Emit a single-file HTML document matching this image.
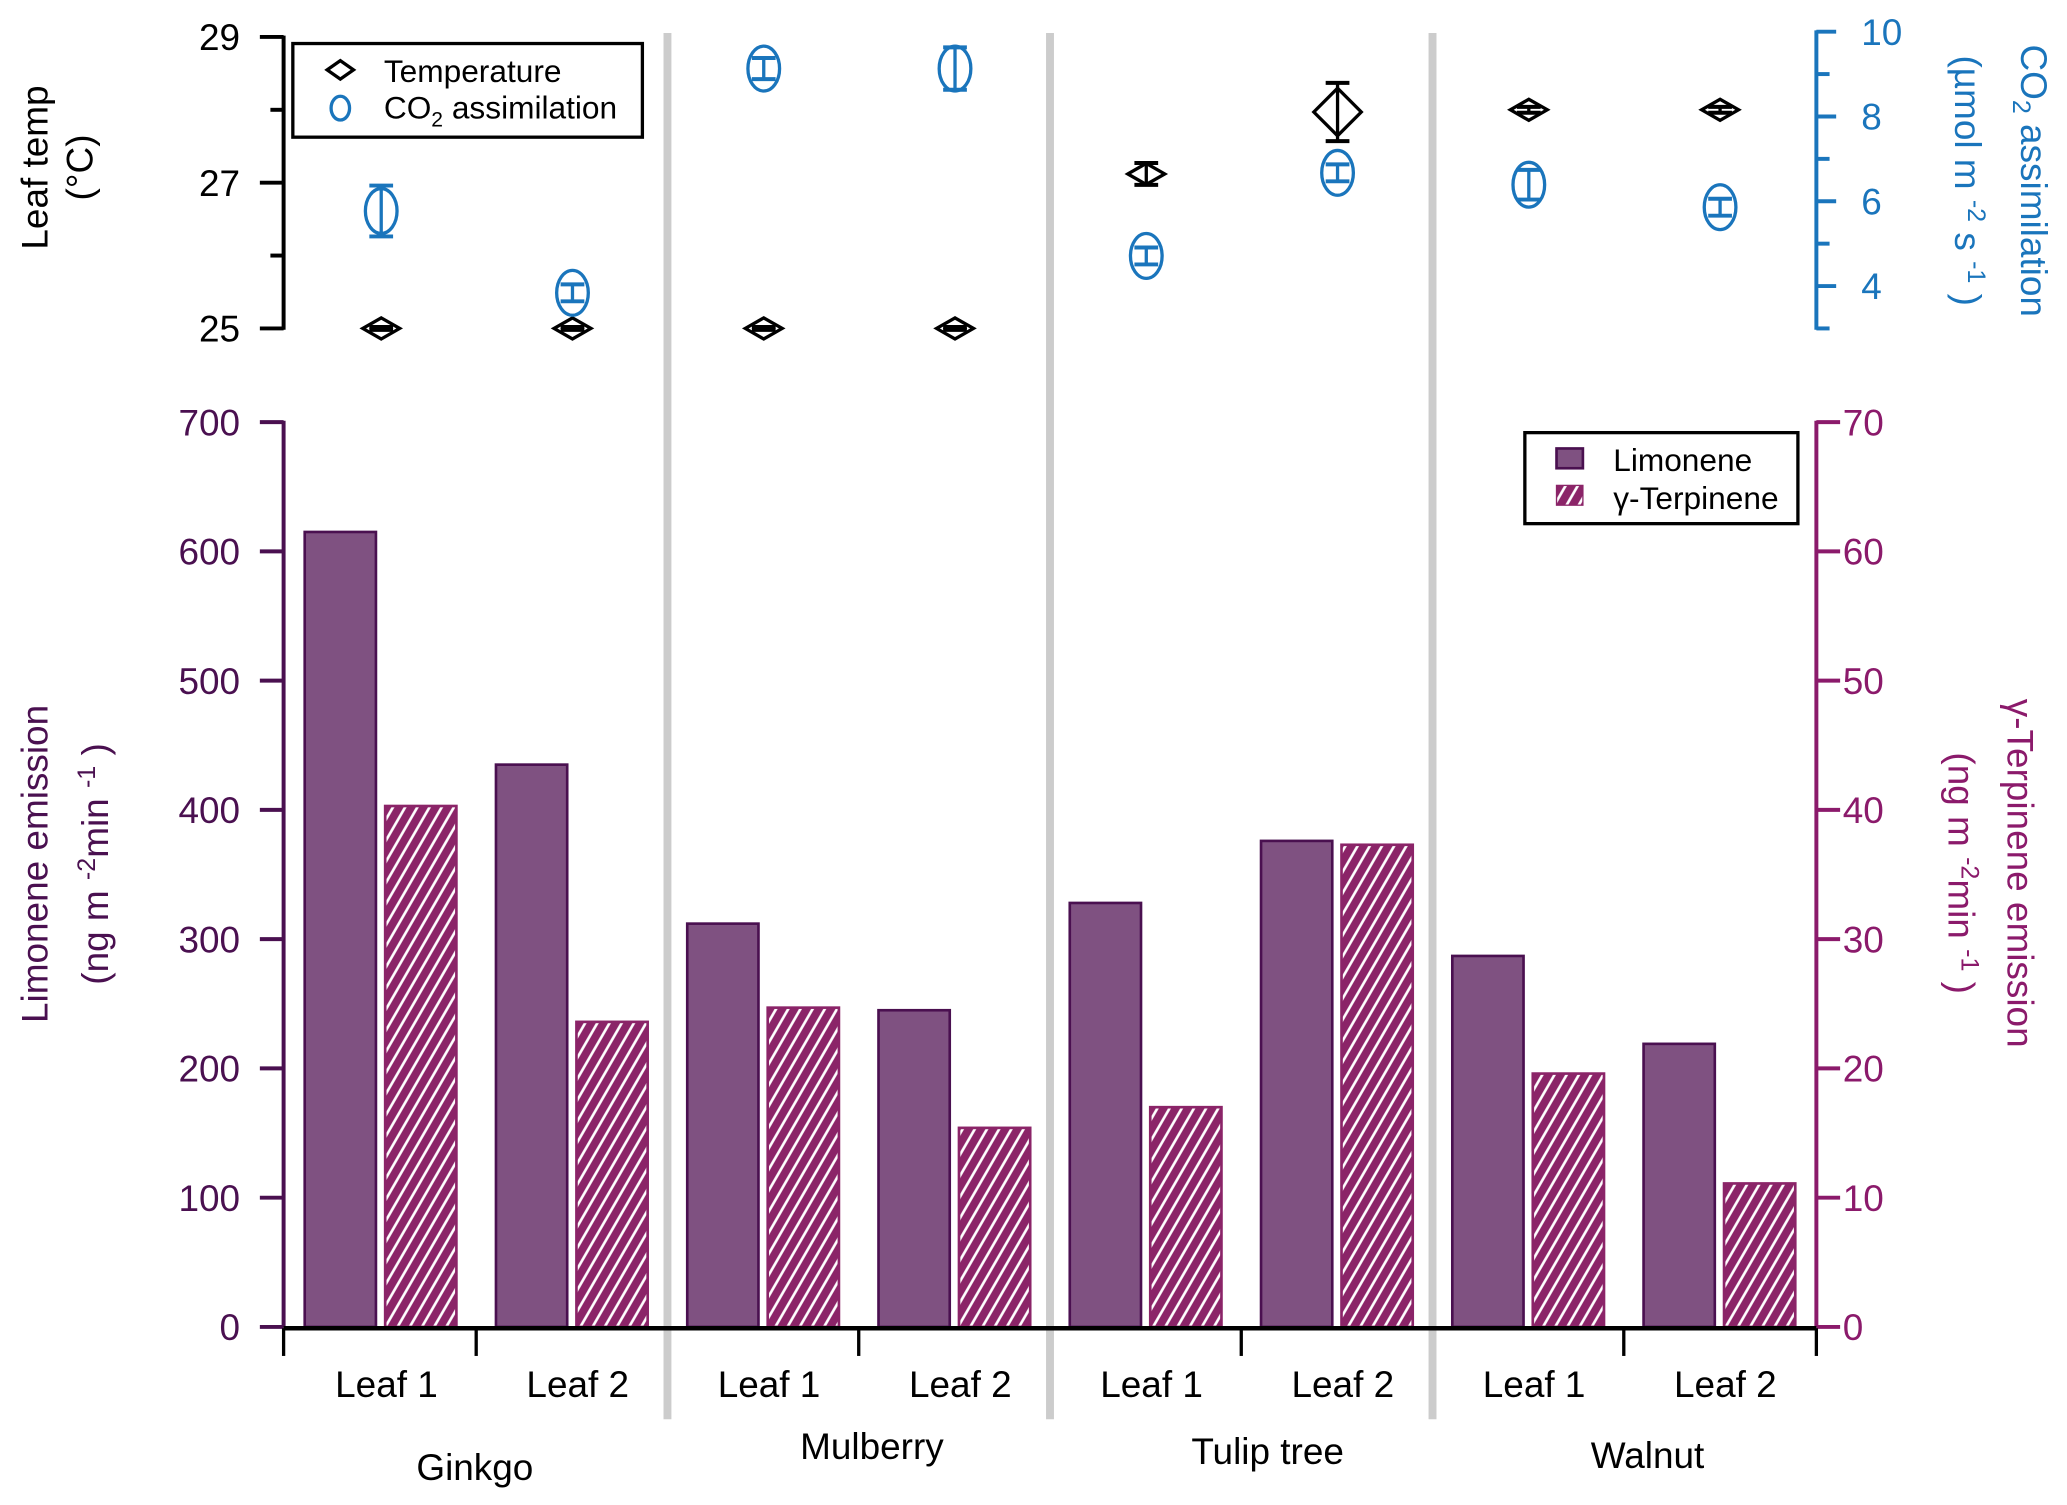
<!DOCTYPE html>
<html><head><meta charset="utf-8">
<style>
html,body{margin:0;padding:0;background:#fff;}
svg{display:block;font-family:"Liberation Sans",Arial,sans-serif;}
</style></head>
<body>
<svg id="chart" width="2067" height="1505" viewBox="0 0 1567 1141" preserveAspectRatio="none" xmlns="http://www.w3.org/2000/svg">
<defs>
<pattern id="hatch" patternUnits="userSpaceOnUse" width="8" height="8" patternTransform="rotate(30)">
<rect width="8" height="8" fill="#8b2468"/>
<line x1="4" y1="0" x2="4" y2="8" stroke="#fff" stroke-width="2"/>
</pattern>
</defs>
<g id="layer"></g>
</svg>
<script>
const categories = ["Ginkgo","Mulberry","Tulip tree","Walnut"];
const leaves = ["Leaf 1","Leaf 2"];
const limonene = [615, 435, 312, 245, 328, 376, 287, 219];
const terpinene = [40.3, 23.6, 24.7, 15.4, 17.0, 37.3, 19.6, 11.1];
const tempVals = [25, 25, 25, 25, 27.12, 27.97, 28, 28];
const tempErr = [0.02, 0.02, 0.02, 0.02, 0.15, 0.4, 0.04, 0.04];
const co2Vals = [5.77, 3.84, 9.13, 9.13, 4.71, 6.67, 6.39, 5.86];
const co2Err = [0.6, 0.2, 0.25, 0.5, 0.2, 0.2, 0.35, 0.2];
const limTicks = [0,100,200,300,400,500,600,700];
const terpTicks = [0,10,20,30,40,50,60,70];
const tempTicks = [25,27,29];
const co2Ticks = [4,6,8,10];

const NS="http://www.w3.org/2000/svg";
const L=document.getElementById('layer');
function mk(tag,attrs,parent){const e=document.createElementNS(NS,tag);for(const k in attrs)e.setAttribute(k,attrs[k]);(parent||L).appendChild(e);return e;}
function tx(str,x,y,attrs){const e=mk('text',Object.assign({x:x,y:y},attrs));e.textContent=str;return e;}

const X0=215, X1=1377;
const slot = i => 289 + i*145;
const yLim = v => 1006 - v*0.98;
const yTerp = v => 1006 - v*9.8;
const yTemp = v => 249 - (v-25)*55.25;
const yCO2 = v => 249 - (v-3)*32.14;
const PUR="#4a1050", MAG="#8b1a6b", BLUE="#1a75bc";
const FS=28;

[506,796,1086].forEach(x=>{const s=mk('line',{x1:x,y1:25,x2:x,y2:1076,stroke:'#cccccc','stroke-width':6});

});

let a=mk('line',{x1:X0,y1:27,x2:X0,y2:250,stroke:'#000','stroke-width':3});


[25,26,27,28,29].forEach(t=>{const maj=tempTicks.includes(t);mk('line',{x1:maj?X0-18:X0-10,y1:yTemp(t),x2:X0,y2:yTemp(t),stroke:'#000','stroke-width':3});});
tempTicks.forEach(t=>{const e=tx(String(t),182,yTemp(t)+10,{'text-anchor':'end','font-size':FS,fill:'#000'});

});
let t1=tx('Leaf temp',0,0,{'font-size':FS,'text-anchor':'middle',transform:'translate(36,127) rotate(-90)'});


tx('(°C)',0,0,{'font-size':FS,'text-anchor':'middle',transform:'translate(70,127) rotate(-90)'});

a=mk('line',{x1:X1,y1:yCO2(10)-1,x2:X1,y2:yCO2(3)+1,stroke:BLUE,'stroke-width':3});


[3,4,5,6,7,8,9,10].forEach(v=>{const maj=co2Ticks.includes(v);mk('line',{x1:X1,y1:yCO2(v),x2:maj?X1+15:X1+10,y2:yCO2(v),stroke:BLUE,'stroke-width':3});});
co2Ticks.forEach(v=>{const e=tx(String(v),1411,yCO2(v)+10,{'text-anchor':'start','font-size':FS,fill:BLUE});

});
let t2=mk('text',{'font-size':FS,fill:BLUE,'text-anchor':'middle',transform:'translate(1532,137) rotate(90)'});
t2.innerHTML='CO<tspan dy="6" font-size="19">2</tspan><tspan dy="-6"> assimilation</tspan>';


let t3=mk('text',{'font-size':FS,fill:BLUE,'text-anchor':'middle',transform:'translate(1482,137) rotate(90)'});
t3.innerHTML='(µmol m <tspan dy="-10" font-size="19">-2</tspan><tspan dy="10"> s </tspan><tspan dy="-10" font-size="19">-1</tspan><tspan dy="10"> )</tspan>';

function errbar(x,y1,y2,col){mk('line',{x1:x,y1:y1,x2:x,y2:y2,stroke:col,'stroke-width':2.5});
mk('line',{x1:x-9,y1:y1,x2:x+9,y2:y1,stroke:col,'stroke-width':3});
mk('line',{x1:x-9,y1:y2,x2:x+9,y2:y2,stroke:col,'stroke-width':3});}
tempVals.forEach((v,i)=>{const x=slot(i),y=yTemp(v);
errbar(x,yTemp(v+tempErr[i]),yTemp(v-tempErr[i]),'#000');
const big=i===5;const w=big?18:14,h=big?18:8;
const d=mk('polygon',{points:`${x-w},${y} ${x},${y-h} ${x+w},${y} ${x},${y+h}`,fill:'none',stroke:'#000','stroke-width':2.5});

});
co2Vals.forEach((v,i)=>{const x=slot(i),y=yCO2(v);
errbar(x,yCO2(v+co2Err[i]),yCO2(v-co2Err[i]),BLUE);
const c=mk('ellipse',{cx:x,cy:y,rx:12,ry:17,fill:'none',stroke:BLUE,'stroke-width':2.5});

});

const lg=mk('g',{});


mk('rect',{x:222,y:33,width:265,height:71,fill:'#fff',stroke:'#000','stroke-width':2.5},lg);
mk('polygon',{points:'248,53 258,46 268,53 258,60',fill:'none',stroke:'#000','stroke-width':2.5},lg);
tx('Temperature',291,62,{'font-size':24});
mk('ellipse',{cx:258,cy:82,rx:7,ry:9,fill:'none',stroke:BLUE,'stroke-width':2.5},lg);
const lt=mk('text',{x:291,y:90,'font-size':24});
lt.innerHTML='CO<tspan dy="6" font-size="16">2</tspan><tspan dy="-6"> assimilation</tspan>';



a=mk('line',{x1:X0,y1:319,x2:X0,y2:1006,stroke:PUR,'stroke-width':3});


limTicks.forEach(v=>{mk('line',{x1:X0-18,y1:yLim(v),x2:X0,y2:yLim(v),stroke:PUR,'stroke-width':3});
const e=tx(String(v),182,yLim(v)+10,{'text-anchor':'end','font-size':FS,fill:PUR});

});
a=mk('line',{x1:X1,y1:319,x2:X1,y2:1006,stroke:MAG,'stroke-width':3});


terpTicks.forEach(v=>{mk('line',{x1:X1,y1:yTerp(v),x2:X1+18,y2:yTerp(v),stroke:MAG,'stroke-width':3});
const e=tx(String(v),1397,yTerp(v)+10,{'text-anchor':'start','font-size':FS,fill:MAG});

});
let t4=tx('Limonene emission',0,0,{'font-size':FS,fill:PUR,'text-anchor':'middle',transform:'translate(36,655) rotate(-90)'});


let t5=mk('text',{'font-size':FS,fill:PUR,'text-anchor':'middle',transform:'translate(82,655) rotate(-90)'});
t5.innerHTML='(ng m <tspan dy="-10" font-size="19">-2</tspan><tspan dy="10">min </tspan><tspan dy="-10" font-size="19">-1</tspan><tspan dy="10"> )</tspan>';
let t6=tx('γ-Terpinene emission',0,0,{'font-size':FS,fill:MAG,'text-anchor':'middle',transform:'translate(1522,662) rotate(90)'});


let t7=mk('text',{'font-size':FS,fill:MAG,'text-anchor':'middle',transform:'translate(1477,662) rotate(90)'});
t7.innerHTML='(ng m <tspan dy="-10" font-size="19">-2</tspan><tspan dy="10">min </tspan><tspan dy="-10" font-size="19">-1</tspan><tspan dy="10"> )</tspan>';

limonene.forEach((v,i)=>{const x=slot(i)-58;const b=mk('rect',{x:x,y:yLim(v),width:54,height:1006-yLim(v),fill:'#7f5181',stroke:PUR,'stroke-width':2});

});
terpinene.forEach((v,i)=>{const x=slot(i)+3;const b=mk('rect',{x:x,y:yTerp(v),width:54,height:1006-yTerp(v),fill:'url(#hatch)',stroke:'#8b2468','stroke-width':2});

});

a=mk('line',{x1:X0,y1:1007,x2:X1,y2:1007,stroke:'#000','stroke-width':3.5});


[215,361,651,941,1231,1377].forEach(x=>mk('line',{x1:x,y1:1007,x2:x,y2:1028,stroke:'#000','stroke-width':2.5}));
leaves.concat(leaves,leaves,leaves).forEach((s,i)=>{const e=tx(s,slot(i)+4,1059,{'text-anchor':'middle','font-size':FS});

});
const gy=[1122,1106,1110,1113], gx=[360,661,961,1249];
categories.forEach((c,i)=>{const e=tx(c,gx[i],gy[i],{'text-anchor':'middle','font-size':FS});

});

const lg2=mk('g',{});


mk('rect',{x:1156,y:328,width:207,height:69,fill:'#fff',stroke:'#000','stroke-width':2.5},lg2);
mk('rect',{x:1180,y:340,width:20,height:15,fill:'#7f5181',stroke:PUR,'stroke-width':2},lg2);
tx('Limonene',1223,357,{'font-size':24});
mk('rect',{x:1180,y:368,width:20,height:15,fill:'url(#hatch)',stroke:'#8b2468','stroke-width':1},lg2);
tx('γ-Terpinene',1223,386,{'font-size':24});
</script>
</body></html>
